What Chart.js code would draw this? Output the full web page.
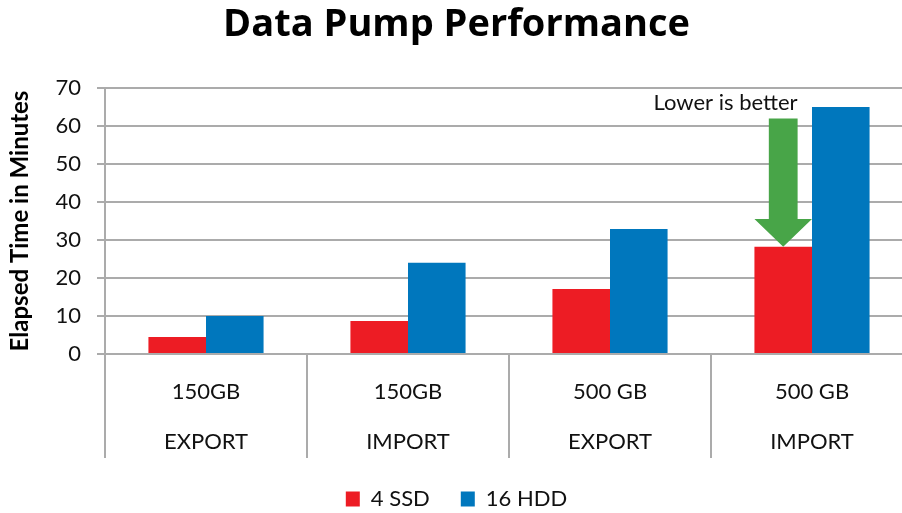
<!DOCTYPE html>
<html>
<head>
<meta charset="utf-8">
<script src="https://cdn.jsdelivr.net/npm/chart.js@4/dist/chart.umd.min.js"></script>
<style>
  html, body { margin: 0; padding: 0; background: #fff; overflow: hidden; }
</style>
</head>
<body>
<canvas id="pumpChart" width="913" height="513"></canvas>
<script>
// data
const sizes = ['150GB', '150GB', '500 GB', '500 GB'];
const operations = ['EXPORT', 'IMPORT', 'EXPORT', 'IMPORT'];
const ssdMinutes = [4.5, 8.7, 17.1, 28.2];
const hddMinutes = [10, 24, 32.9, 65];
const yMax = 70;
const yStep = 10;

// "lower is better" note, in data units
const noteText = 'Lower is better';
const arrowCategory = 3;
const arrowStart = 62;
const arrowHeadStart = 35.5;
const noteValue = 66;

const gridGray = '#ababab';
const textColor = '#111';
const dividerLength = 104;
const xAxisHeight = 103;
const yAxisWidth = 105;

const lowerIsBetter = {
    id: 'lowerIsBetter',
    afterDatasetsDraw(chart) {
        const bar = chart.getDatasetMeta(0).data[arrowCategory];
        const y = chart.scales.y;
        const ctx = chart.ctx;
        const half = bar.width / 2;
        const shaft = bar.width / 4;
        const top = y.getPixelForValue(arrowStart);
        const neck = y.getPixelForValue(arrowHeadStart);
        const tip = bar.y;
        ctx.save();
        ctx.fillStyle = '#48a548';
        ctx.beginPath();
        ctx.moveTo(bar.x - shaft, top);
        ctx.lineTo(bar.x + shaft, top);
        ctx.lineTo(bar.x + shaft, neck);
        ctx.lineTo(bar.x + half, neck);
        ctx.lineTo(bar.x, tip);
        ctx.lineTo(bar.x - half, neck);
        ctx.lineTo(bar.x - shaft, neck);
        ctx.closePath();
        ctx.fill();
        ctx.font = '22px Lato';
        ctx.fillStyle = textColor;
        ctx.textAlign = 'right';
        ctx.textBaseline = 'middle';
        ctx.fillText(noteText, bar.x + shaft, y.getPixelForValue(noteValue));
        ctx.restore();
    }
};

// long dividers between the category labels, below the axis
const categoryDividers = {
    id: 'categoryDividers',
    afterDraw(chart) {
        const x = chart.scales.x;
        const ctx = chart.ctx;
        const step = x.getPixelForValue(1) - x.getPixelForValue(0);
        const bottom = chart.chartArea.bottom;
        ctx.save();
        ctx.strokeStyle = gridGray;
        ctx.lineWidth = 2;
        ctx.beginPath();
        for (let i = 0; i <= sizes.length; i++) {
            const px = x.getPixelForValue(0) - step / 2 + i * step;
            ctx.moveTo(px, bottom);
            ctx.lineTo(px, bottom + dividerLength);
        }
        ctx.stroke();
        ctx.restore();
    }
};

const ctx = document.getElementById('pumpChart').getContext('2d');

new Chart(ctx, {
    type: 'bar',
    data: {
        labels: sizes.map((s, i) => [s, operations[i]]),
        datasets: [{
            label: '4 SSD',
            data: ssdMinutes,
            backgroundColor: '#ed1c24'
        }, {
            label: '16 HDD',
            data: hddMinutes,
            backgroundColor: '#0077bd'
        }]
    },
    options: {
        responsive: false,
        animation: false,
        devicePixelRatio: 1,
        categoryPercentage: 0.57,
        barPercentage: 1.0,
        layout: {
            padding: { left: 0, right: 0, top: 0, bottom: -7 }
        },
        plugins: {
            title: {
                display: true,
                text: 'Data Pump Performance',
                color: '#000',
                font: { family: 'Open Sans', size: 38, weight: 'bold' },
                padding: { top: 2, bottom: 40.4 }
            },
            legend: {
                position: 'bottom',
                labels: {
                    color: textColor,
                    font: { family: 'Lato', size: 22 },
                    boxWidth: 14,
                    boxHeight: 15,
                    padding: 31
                }
            },
            tooltip: { enabled: false }
        },
        scales: {
            x: {
                afterFit(scale) { scale.height = xAxisHeight; },
                grid: {
                    offset: true,
                    drawOnChartArea: false,
                    drawTicks: false
                },
                border: { color: gridGray, width: 2 },
                ticks: {
                    color: textColor,
                    font: { family: 'Lato', size: 22, lineHeight: 2.27 },
                    padding: 13,
                    maxRotation: 0
                }
            },
            y: {
                min: 0,
                max: yMax,
                afterFit(scale) { scale.width = yAxisWidth; },
                ticks: {
                    stepSize: yStep,
                    color: textColor,
                    font: { family: 'Lato', size: 22 },
                    padding: 16
                },
                grid: {
                    color: gridGray,
                    lineWidth: 2,
                    tickLength: 8
                },
                border: { color: gridGray, width: 2 },
                title: {
                    display: true,
                    text: 'Elapsed Time in Minutes',
                    color: '#000',
                    font: { family: 'Lato', size: 24, weight: 'bold' },
                    padding: { top: 6, bottom: 6 }
                }
            }
        }
    },
    plugins: [lowerIsBetter, categoryDividers]
});
</script>
</body>
</html>
